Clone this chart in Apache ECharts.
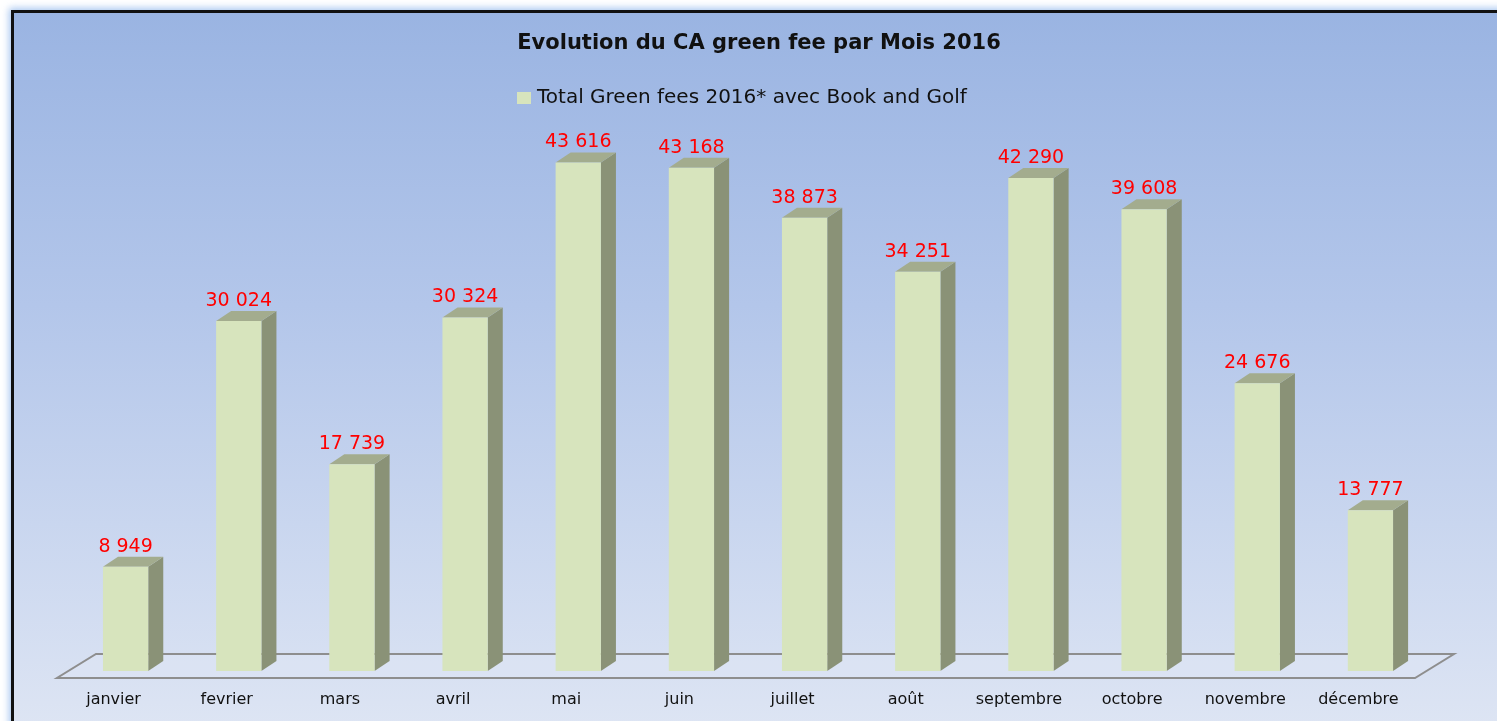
<!DOCTYPE html>
<html>
<head>
<meta charset="utf-8">
<script src="https://cdn.jsdelivr.net/npm/echarts@6/dist/echarts.min.js"></script>
<style>
html,body{margin:0;padding:0;background:#fff;width:1497px;height:721px;overflow:hidden;}
#frame{position:absolute;left:11px;top:10px;width:1500px;height:730px;border-left:3px solid #111;border-top:3px solid #111;
background:linear-gradient(to bottom,#9ab4e2 0%,#b3c6ea 40%,#dfe6f4 100%);box-shadow:0 0 7px 2px rgba(140,180,235,0.75);}
#chart{position:absolute;left:0;top:0;width:1497px;height:721px;}
</style>
</head>
<body>
<div id="frame"></div>
<div id="chart"></div>
<script>
const titleText = 'Evolution du CA green fee par Mois 2016';
const seriesName = 'Total Green fees 2016* avec Book and Golf';
const months = ['janvier','fevrier','mars','avril','mai','juin','juillet','août','septembre','octobre','novembre','décembre'];
const values = [8949, 30024, 17739, 30324, 43616, 43168, 38873, 34251, 42290, 39608, 24676, 13777];

const FRONT = '#d7e4bd', SIDE = '#8a9277', TOP = '#a3ac8e';
const FONT = 'DejaVu Sans';

function fmt(v){ return String(v).replace(/\B(?=(\d{3})+(?!\d))/g, ' '); }

function renderBar(params, api){
  const cat = api.value(0), val = api.value(1);
  const base = api.coord([cat, 0]);
  const top = api.coord([cat, val]);
  const band = api.size([1, 0])[0];
  const w = band * 0.4, dx = band * 0.133, dy = 10;
  const x0 = base[0] - w / 2, x1 = base[0] + w / 2;
  const yT = top[1], yB = base[1];
  return {
    type: 'group',
    children: [
      {type:'polygon', shape:{points:[[x1,yT],[x1+dx,yT-dy],[x1+dx,yB-dy],[x1,yB]]}, style:{fill:SIDE}},
      {type:'polygon', shape:{points:[[x0,yT],[x0+dx,yT-dy],[x1+dx,yT-dy],[x1,yT]]}, style:{fill:TOP}},
      {type:'rect', shape:{x:x0, y:yT, width:w, height:yB-yT}, style:{fill:FRONT}},
      {type:'text', style:{x:base[0], y:yT-20, text:fmt(val), fill:'#ff0000', font:'19px "' + FONT + '"', align:'center', verticalAlign:'middle'}}
    ]
  };
}

function renderFloor(params, api){
  const cs = params.coordSys;
  const yB = cs.y + cs.height;
  const L = cs.x, R = cs.x + cs.width;
  return {
    type:'polygon',
    shape:{points:[[L-12, yB+7],[R-12, yB+7],[R+27, yB-17],[L+27, yB-17]]},
    style:{fill:'rgba(225,232,245,0.35)', stroke:'#8e8e8e', lineWidth:2}
  };
}

const chart = echarts.init(document.getElementById('chart'), null, {renderer:'canvas'});
chart.setOption({
  backgroundColor:'transparent',
  animation:false,
  title:{
    text:titleText, left:754, top:28, textAlign:'center',
    textStyle:{fontFamily:FONT, fontSize:21, fontWeight:'bold', color:'#111'}
  },
  legend:{
    data:[seriesName], top:88, left:517, icon:'rect', itemWidth:14, itemHeight:12, itemGap:6, padding:0,
    textStyle:{fontFamily:FONT, fontSize:20, color:'#111', padding:[0,0,0,1]}
  },
  grid:{left:69, right:70, top:88, bottom:50},
  xAxis:{
    type:'category', data:months,
    axisLine:{show:false}, axisTick:{show:false}, splitLine:{show:false},
    axisLabel:{margin:21, fontFamily:FONT, fontSize:16, color:'#111', padding:[0,24,0,0]}
  },
  yAxis:{type:'value', min:0, max:50000, show:false},
  series:[
    {name:'floor', type:'custom', renderItem:renderFloor, data:[[0,0]], silent:true, z:1},
    {name:seriesName, type:'custom', renderItem:renderBar, itemStyle:{color:FRONT},
     data:values.map((v,i)=>[i,v]), encode:{x:0,y:1}, z:2}
  ]
});
</script>
</body>
</html>
